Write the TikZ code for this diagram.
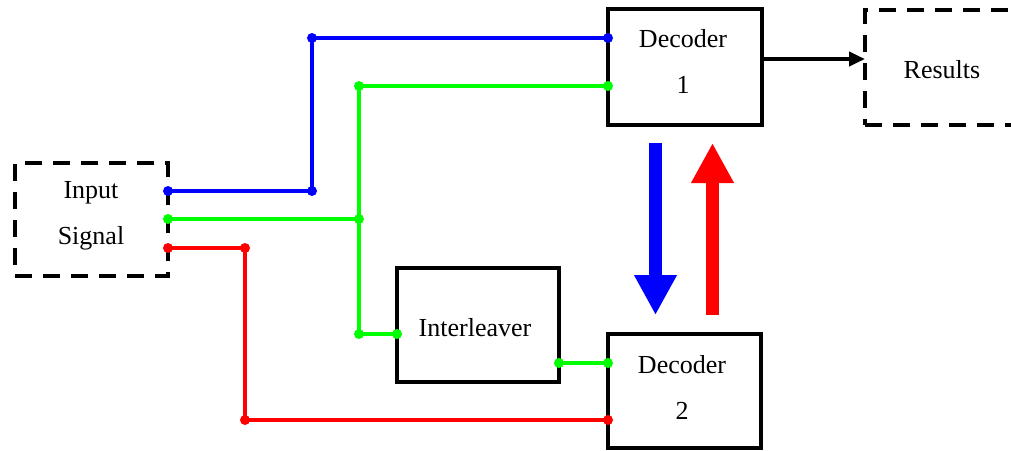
\documentclass[tikz,border=0pt]{standalone}
\usepackage{fontspec}
\setmainfont{Liberation Serif}
\usetikzlibrary{arrows.meta}
\definecolor{pblue}{RGB}{0,0,255}
\definecolor{pgreen}{RGB}{0,255,0}
\definecolor{pred}{RGB}{255,0,0}
\tikzset{
  blk/.style={draw=black, line width=4.5pt, rectangle, outer sep=0pt, inner sep=0pt},
  dashblk/.style={blk, dash pattern=on 17pt off 11pt},
  lbl/.style={font=\fontsize{26}{46}\selectfont, align=center, inner sep=0pt},
  wire/.style={line width=4.5pt},
  dot/.style={circle, fill, inner sep=0pt, minimum size=10pt},
  bigarrow/.style={line width=13pt, -{Triangle[width=40pt,length=40pt]}},
}
\begin{document}
\begin{tikzpicture}[x=1pt,y=-1pt]
\clip (0,0) rectangle (1011,450);
\fill[white] (0,0) rectangle (1011,450);
% boxes
\node[dashblk, minimum width=153pt, minimum height=113pt] (inp) at (91.5,219.5) {};
\node[blk, minimum width=154pt, minimum height=116pt] (dec1) at (685,67) {};
\node[blk, minimum width=153pt, minimum height=114pt] (dec2) at (684.5,391) {};
\node[blk, minimum width=162pt, minimum height=114pt] (int) at (478,325) {};
\node[dashblk, minimum width=154pt, minimum height=115pt] (res) at (942,67.5) {};
% labels
\node[lbl] (inptxt) at (91,216) {Input\\Signal};
\node[lbl] (dec1txt) at (683,61) {Decoder\\1};
\node[lbl] (dec2txt) at (682,387) {Decoder\\2};
\node[lbl] (inttxt) at (475,328) {Interleaver};
\node[lbl] (restxt) at (942,70) {Results};
% junction coordinates
\coordinate (bj) at (312,191);
\coordinate (bt) at (312,38);
\coordinate (gj) at (359,219);
\coordinate (gt) at (359,86);
\coordinate (gb) at (359,334);
\coordinate (gi) at (0,363);
\coordinate (rj) at (245,248);
\coordinate (rb) at (245,420);
\coordinate (ay) at (0,59);
% blue wire
\draw[wire, pblue] (inp.east |- bj) -- (bj) -- (bt) -- (dec1.west |- bt);
\foreach \p in {inp.east |- bj, bj, bt, dec1.west |- bt} \node[dot, pblue] at (\p) {};
% green wires
\draw[wire, pgreen] (inp.east |- gj) -- (gj) -- (gt) -- (dec1.west |- gt);
\draw[wire, pgreen] (gj) -- (gb) -- (int.west |- gb);
\draw[wire, pgreen] (int.east |- gi) -- (dec2.west |- gi);
\foreach \p in {inp.east |- gj, gj, gt, dec1.west |- gt, gb, int.west |- gb, int.east |- gi, dec2.west |- gi} \node[dot, pgreen] at (\p) {};
% red wire
\draw[wire, pred] (inp.east |- rj) -- (rj) -- (rb) -- (dec2.west |- rb);
\foreach \p in {inp.east |- rj, rj, rb, dec2.west |- rb} \node[dot, pred] at (\p) {};
% output arrow
\draw[line width=4pt, -{Triangle[width=14pt,length=16pt]}] (dec1.east |- ay) -- (res.west |- ay);
% big arrows between decoders
\draw[bigarrow, pblue, shorten <=18pt, shorten >=19pt] ([xshift=-29.5pt]dec1.south) -- ([xshift=-29pt]dec2.north);
\draw[bigarrow, pred, shorten <=19pt, shorten >=18pt] ([xshift=28pt]dec2.north) -- ([xshift=27.5pt]dec1.south);
\end{tikzpicture}
\end{document}
